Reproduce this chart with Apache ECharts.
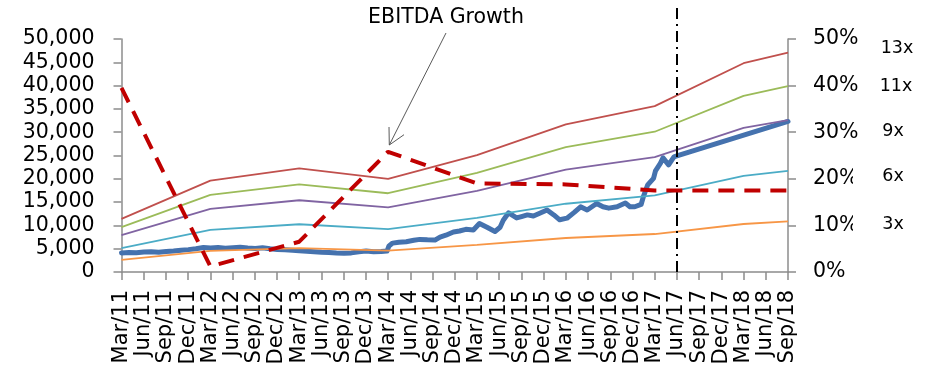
<!DOCTYPE html>
<html>
<head>
<meta charset="utf-8">
<script src="https://cdn.jsdelivr.net/npm/echarts@6.0.0/dist/echarts.min.js"></script>
<style>
  html, body { margin: 0; padding: 0; background: #fff; }
  #chart { width: 933px; height: 373px; }
</style>
</head>
<body>
<div id="chart"></div>
<script>
// Quarter-end tick labels along the bottom axis
const quarters = [
  'Mar/11', 'Jun/11', 'Sep/11', 'Dec/11',
  'Mar/12', 'Jun/12', 'Sep/12', 'Dec/12',
  'Mar/13', 'Jun/13', 'Sep/13', 'Dec/13',
  'Mar/14', 'Jun/14', 'Sep/14', 'Dec/14',
  'Mar/15', 'Jun/15', 'Sep/15', 'Dec/15',
  'Mar/16', 'Jun/16', 'Sep/16', 'Dec/16',
  'Mar/17', 'Jun/17', 'Sep/17', 'Dec/17',
  'Mar/18', 'Jun/18', 'Sep/18'
];

// Annual EBITDA reference dates (the multiple bands bend at these)
const bandDates = ['Mar/11', 'Mar/12', 'Mar/13', 'Mar/14', 'Mar/15', 'Mar/16', 'Mar/17', 'Mar/18', 'Sep/18'];

// Index level implied by EBITDA multiples
const band13x = [11400, 19600, 22250, 20000, 25100, 31700, 35600, 44800, 47100];
const band11x = [9650, 16550, 18800, 16900, 21250, 26800, 30100, 37800, 39900];
const band9x  = [7900, 13550, 15400, 13850, 17400, 21950, 24650, 30950, 32600];
const band6x  = [5100, 9050, 10250, 9200, 11600, 14650, 16450, 20650, 21700];
const band3x  = [2600, 4520, 5140, 4600, 5800, 7300, 8150, 10300, 10850];

// Year-on-year EBITDA growth, percent (right axis)
const ebitdaGrowth = [39.5, 1.2, 6.5, 25.8, 19.0, 18.8, 17.5, 17.5, 17.5];

// Index price history, then projected path to Sep/18
const priceHistory = [
  ['2011-03-01', 4100], ['2011-04-01', 4200], ['2011-05-01', 4150], ['2011-06-01', 4300],
  ['2011-07-01', 4350], ['2011-08-01', 4250], ['2011-09-01', 4400], ['2011-10-01', 4500],
  ['2011-11-01', 4650], ['2011-12-01', 4800], ['2012-01-01', 5000], ['2012-02-01', 5250],
  ['2012-03-01', 5150], ['2012-04-01', 5250], ['2012-05-01', 5100], ['2012-06-01', 5200],
  ['2012-07-01', 5300], ['2012-08-01', 5150], ['2012-09-01', 5050], ['2012-10-01', 5200],
  ['2012-11-01', 5000], ['2012-12-01', 4850], ['2013-01-01', 4750], ['2013-02-01', 4650],
  ['2013-03-01', 4550], ['2013-04-01', 4450], ['2013-05-01', 4350], ['2013-06-01', 4250],
  ['2013-07-01', 4200], ['2013-08-01', 4100], ['2013-09-01', 4050], ['2013-10-01', 4100],
  ['2013-11-01', 4350], ['2013-12-01', 4500], ['2014-01-01', 4350], ['2014-02-01', 4400],
  ['2014-02-25', 4500], ['2014-03-05', 5600], ['2014-03-20', 6200], ['2014-04-15', 6400],
  ['2014-05-15', 6500], ['2014-06-15', 6800], ['2014-07-10', 7000], ['2014-08-10', 6900],
  ['2014-09-10', 6850], ['2014-10-01', 7500], ['2014-10-25', 7900], ['2014-11-25', 8600],
  ['2014-12-20', 8800], ['2015-01-15', 9150], ['2015-02-15', 9000], ['2015-03-12', 10400],
  ['2015-04-12', 9600], ['2015-05-15', 8700], ['2015-06-05', 9600], ['2015-06-18', 11100],
  ['2015-07-10', 12700], ['2015-08-12', 11600], ['2015-09-01', 11900], ['2015-09-25', 12250],
  ['2015-10-20', 12000], ['2015-11-15', 12600], ['2015-12-15', 13300], ['2016-01-12', 12250],
  ['2016-02-05', 11200], ['2016-03-06', 11550], ['2016-04-05', 12800], ['2016-05-01', 14000],
  ['2016-05-28', 13300], ['2016-07-06', 14700], ['2016-08-01', 14000], ['2016-08-25', 13700],
  ['2016-09-28', 14000], ['2016-11-01', 14800], ['2016-11-20', 14000], ['2016-12-10', 14000],
  ['2017-01-05', 14500], ['2017-01-15', 16300], ['2017-02-01', 18700], ['2017-02-25', 20100],
  ['2017-03-05', 21700], ['2017-03-25', 23300], ['2017-04-05', 24500], ['2017-04-28', 23000],
  ['2017-05-20', 24700], ['2017-06-01', 24900], ['2018-09-01', 32300]
];

// Current valuation date marker
const currentQuarter = 'Jun/17';

const bandLabels = ['13x', '11x', '9x', '6x', '3x'];

const FONT = 'DejaVu Sans';
const AXIS_COLOR = '#8c8c8c';

function pairs(values) {
  return bandDates.map((d, i) => [d, values[i]]);
}

function bandSeries(values, color) {
  return {
    type: 'line',
    xAxisIndex: 0,
    yAxisIndex: 0,
    data: pairs(values),
    showSymbol: false,
    symbol: 'none',
    lineStyle: { color: color, width: 1.8 },
    z: 3,
    silent: true
  };
}

const gridBox = { left: 121.5, right: 145, top: 39, bottom: 101 };

const option = {
  animation: false,
  backgroundColor: '#fff',
  textStyle: { fontFamily: FONT },
  grid: [
    Object.assign({}, gridBox),
    { left: gridBox.left, right: gridBox.right, top: 3, bottom: gridBox.bottom }
  ],
  xAxis: [
    {
      type: 'category',
      gridIndex: 0,
      data: quarters,
      boundaryGap: false,
      axisLine: { show: true, lineStyle: { color: AXIS_COLOR, width: 1.5 } },
      axisTick: { show: true, interval: 0, length: 8, lineStyle: { color: AXIS_COLOR, width: 1.5 } },
      axisLabel: {
        interval: 0, rotate: 90, margin: 18,
        fontFamily: FONT, fontSize: 21, color: '#000',
        hideOverlap: false
      },
      splitLine: { show: false }
    },
    {
      type: 'time',
      gridIndex: 0,
      min: '2011-03-01',
      max: '2018-09-01',
      show: false
    },
    {
      type: 'category',
      gridIndex: 1,
      data: quarters,
      boundaryGap: false,
      show: false
    }
  ],
  yAxis: [
    {
      type: 'value',
      gridIndex: 0,
      min: 0, max: 50000, interval: 5000,
      axisLine: { show: true, lineStyle: { color: AXIS_COLOR, width: 1.5 } },
      axisTick: { show: true, length: 8, lineStyle: { color: AXIS_COLOR, width: 1.5 } },
      axisLabel: {
        margin: 27, fontFamily: FONT, fontSize: 20.5, color: '#000',
        formatter: v => v.toLocaleString('en-US')
      },
      splitLine: { show: false }
    },
    {
      type: 'value',
      gridIndex: 0,
      position: 'right',
      min: 0, max: 50, interval: 10,
      axisLine: { show: true, lineStyle: { color: AXIS_COLOR, width: 1.5 } },
      axisTick: { show: true, length: 8, lineStyle: { color: AXIS_COLOR, width: 1.5 } },
      axisLabel: {
        margin: 25, fontFamily: FONT, fontSize: 20.5, color: '#000',
        formatter: '{value}%'
      },
      splitLine: { show: false }
    },
    {
      type: 'value',
      gridIndex: 1,
      min: 0, max: 1,
      show: false
    }
  ],
  series: [
    {
      name: 'Index',
      type: 'line',
      xAxisIndex: 1,
      yAxisIndex: 0,
      data: priceHistory,
      showSymbol: false,
      symbol: 'none',
      lineStyle: { color: '#4572ae', width: 5, join: 'round', cap: 'round' },
      z: 2,
      silent: true
    },
    bandSeries(band3x, '#f79646'),
    bandSeries(band6x, '#4bacc6'),
    bandSeries(band9x, '#8064a2'),
    bandSeries(band11x, '#9bbb59'),
    bandSeries(band13x, '#c0504d'),
    {
      name: 'EBITDA Growth',
      type: 'line',
      xAxisIndex: 0,
      yAxisIndex: 1,
      data: pairs(ebitdaGrowth),
      showSymbol: false,
      symbol: 'none',
      lineStyle: { color: '#c00000', width: 4, type: [16, 10], cap: 'butt' },
      z: 5,
      silent: true
    },
    {
      type: 'line',
      xAxisIndex: 2,
      yAxisIndex: 2,
      data: [],
      silent: true,
      markLine: {
        silent: true,
        symbol: ['none', 'none'],
        label: { show: false },
        lineStyle: { color: '#000', width: 2, type: [11, 5, 2, 5] },
        data: [{ xAxis: currentQuarter }]
      }
    }
  ],
  graphic: [
    {
      type: 'text', z: 100,
      style: {
        text: 'EBITDA Growth', x: 446, y: 18,
        align: 'center', verticalAlign: 'middle',
        font: '20.5px "DejaVu Sans"', fill: '#000'
      }
    },
    {
      type: 'line', z: 100,
      shape: { x1: 446, y1: 33, x2: 389.3, y2: 145 },
      style: { stroke: '#5a5a5a', lineWidth: 1 }
    },
    {
      type: 'polyline', z: 100,
      shape: { points: [[389, 127], [389.3, 145], [404, 134.7]] },
      style: { stroke: '#5a5a5a', lineWidth: 1, fill: null }
    },
    // white label boxes beside the right axis
    { type: 'rect', z: 90, shape: { x: 853, y: 162, width: 75, height: 30 }, style: { fill: '#fff' } },
    { type: 'rect', z: 90, shape: { x: 853, y: 209, width: 75, height: 30 }, style: { fill: '#fff' } },
    {
      type: 'text', z: 100,
      style: { text: bandLabels[0], x: 897, y: 48, align: 'center', verticalAlign: 'middle', font: '17.5px "DejaVu Sans"', fill: '#000' }
    },
    {
      type: 'text', z: 100,
      style: { text: bandLabels[1], x: 896, y: 86, align: 'center', verticalAlign: 'middle', font: '17.5px "DejaVu Sans"', fill: '#000' }
    },
    {
      type: 'text', z: 100,
      style: { text: bandLabels[2], x: 893, y: 131.5, align: 'center', verticalAlign: 'middle', font: '17.5px "DejaVu Sans"', fill: '#000' }
    },
    {
      type: 'text', z: 100,
      style: { text: bandLabels[3], x: 893, y: 176.5, align: 'center', verticalAlign: 'middle', font: '17.5px "DejaVu Sans"', fill: '#000' }
    },
    {
      type: 'text', z: 100,
      style: { text: bandLabels[4], x: 893, y: 224, align: 'center', verticalAlign: 'middle', font: '17.5px "DejaVu Sans"', fill: '#000' }
    }
  ]
};

const chart = echarts.init(document.getElementById('chart'), null, { renderer: 'canvas' });
chart.setOption(option);
</script>
</body>
</html>
